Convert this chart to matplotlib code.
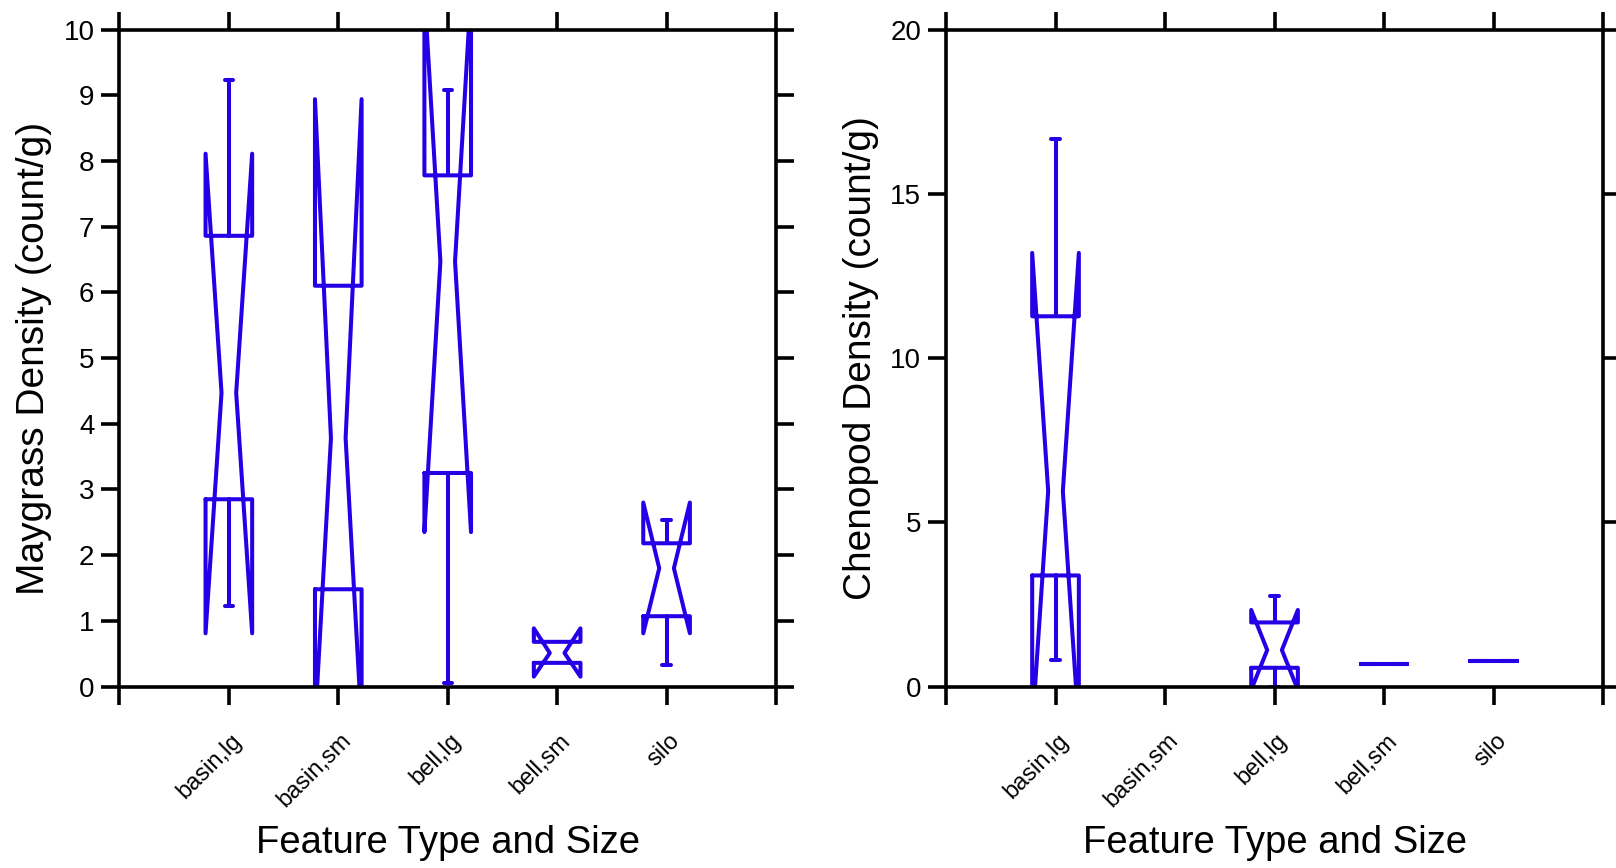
import matplotlib
matplotlib.use('Agg')
import matplotlib.pyplot as plt
import matplotlib.transforms as mtransforms
import numpy as np

plt.rcParams['font.family'] = ['Liberation Sans', 'DejaVu Sans']

features = ['basin,lg', 'basin,sm', 'bell,lg', 'bell,sm', 'silo']

# maygrass density, box stats
may_whislo = [1.23, 1.48, 0.05, 0.36, 0.32]
may_q1 = [2.85, 1.48, 3.25, 0.36, 1.07]
may_med = [4.47, 3.78, 6.47, 0.51, 1.80]
may_q3 = [6.86, 6.10, 7.78, 0.68, 2.18]
may_whishi = [9.23, 6.10, 9.08, 0.68, 2.53]
may_cilo = [0.81, -0.6, 2.35, 0.15, 0.81]
may_cihi = [8.11, 8.94, 10.59, 0.885, 2.80]

# chenopod density (no basin,sm data)
nan = float('nan')
chen_whislo = [0.80, nan, 0.0, 0.68, 0.79]
chen_q1 = [3.38, nan, 0.57, 0.68, 0.79]
chen_med = [5.95, nan, 1.11, 0.68, 0.79]
chen_q3 = [11.27, nan, 1.95, 0.68, 0.79]
chen_whishi = [16.66, nan, 2.76, 0.68, 0.79]
chen_cilo = [-1.3, nan, -0.1, 0.68, 0.79]
chen_cihi = [13.2, nan, 2.33, 0.68, 0.79]

blue = '#2300e6'
lw = 2.9
half_box = 0.213
half_notch = 0.067
half_cap = 0.038

fig = plt.figure(figsize=(16.16, 8.68), dpi=100)
ax1 = fig.add_axes([0.0739, 0.2091, 0.4063, 0.7569])
ax2 = fig.add_axes([0.5854, 0.2091, 0.4066, 0.7569])


def draw_boxes(ax, whislo, q1, med, q3, whishi, cilo, cihi):
    kw = dict(color=blue, lw=lw, solid_capstyle='round', solid_joinstyle='round')
    for i in range(len(features)):
        if np.isnan(med[i]):
            continue
        c = i + 1
        xs = [c - half_box, c - half_box, c - half_notch, c - half_box, c - half_box,
              c + half_box, c + half_box, c + half_notch, c + half_box, c + half_box, c - half_box]
        ys = [q1[i], cilo[i], med[i], cihi[i], q3[i],
              q3[i], cihi[i], med[i], cilo[i], q1[i], q1[i]]
        ax.plot(xs, ys, **kw)
        if whislo[i] < q1[i]:
            ax.plot([c, c], [q1[i], whislo[i]], **kw)
            ax.plot([c - half_cap, c + half_cap], [whislo[i], whislo[i]], **kw)
        if whishi[i] > q3[i]:
            ax.plot([c, c], [q3[i], whishi[i]], **kw)
            ax.plot([c - half_cap, c + half_cap], [whishi[i], whishi[i]], **kw)


def style_axes(ax, ymax, ystep, ylabel):
    ax.set_xlim(0, 6)
    ax.set_ylim(0, ymax)
    ax.set_xticks(range(7))
    ax.set_xticklabels([''] + features + [''], rotation=45, ha='right', va='center',
                       rotation_mode='anchor', fontsize=17)
    ax.set_yticks(np.arange(0, ymax + 0.1, ystep))
    ax.set_yticklabels([str(int(v)) for v in np.arange(0, ymax + 0.1, ystep)], fontsize=20)
    ax.tick_params(axis='both', direction='out', length=13, width=2.6,
                   top=True, right=True, color='black')
    ax.tick_params(axis='x', pad=23.5)
    ax.tick_params(axis='y', pad=5)
    for sp in ax.spines.values():
        sp.set_linewidth(2.6)
    ax.set_xlabel('Feature Type and Size', fontsize=27.5)
    ax.xaxis.set_label_coords(0.5, -0.238)
    ax.xaxis.label.set_va('center')
    ax.set_ylabel(ylabel, fontsize=28)
    ax.yaxis.set_label_coords(-0.130, 0.5)
    ax.yaxis.label.set_va('center')
    offset = mtransforms.ScaledTranslation(0.095, 0, fig.dpi_scale_trans)
    for lab in ax.get_xticklabels():
        lab.set_transform(lab.get_transform() + offset)


draw_boxes(ax1, may_whislo, may_q1, may_med, may_q3, may_whishi, may_cilo, may_cihi)
style_axes(ax1, 10, 1, 'Maygrass Density (count/g)')

draw_boxes(ax2, chen_whislo, chen_q1, chen_med, chen_q3, chen_whishi, chen_cilo, chen_cihi)
style_axes(ax2, 20, 5, 'Chenopod Density (count/g)')

fig.savefig('out.png', dpi=100)
